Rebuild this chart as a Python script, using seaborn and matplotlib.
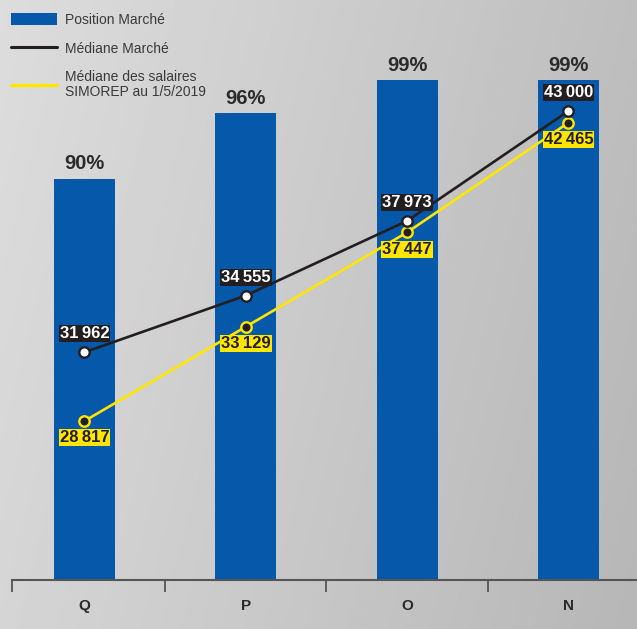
import numpy as np
import pandas as pd
import matplotlib
matplotlib.use("Agg")
import matplotlib.pyplot as plt
import seaborn as sns
from matplotlib import font_manager as fm
from matplotlib.lines import Line2D
from matplotlib.patches import Patch
from matplotlib.ticker import FixedLocator

# ---------------- data ----------------
categories = ["Q", "P", "O", "N"]
position_pct = [90, 96, 99, 99]
mediane_marche = [31962, 34555, 37973, 43000]
mediane_simorep = [28817, 33129, 37447, 42465]
series_labels = ["Position Marché", "Médiane Marché",
                 "Médiane des salaires\nSIMOREP au 1/5/2019"]

BLUE = "#0558AA"
BLACK = "#231F20"
YELLOW = "#FFE600"
TXT = "#2B2B2B"

sns.set_theme(style="white")
plt.rcParams["font.family"] = ["Liberation Sans", "DejaVu Sans"]

W, H = 637, 629
fig = plt.figure(figsize=(W / 100, H / 100), dpi=100)

# background gradient
bg = fig.add_axes([0, 0, 1, 1], zorder=0)
gx, gy = np.meshgrid(np.linspace(0, 1, 300), np.linspace(0, 1, 300))
val = 0.865 - 0.12 * gx - 0.03 * gy
bg.imshow(val, cmap="gray", vmin=0, vmax=1, extent=[0, 1, 0, 1],
          aspect="auto", origin="upper", interpolation="bilinear")
bg.set_axis_off()

rect = [12 / W, (H - 580) / H, 1 - 12 / W, 580 / H]
XL = (-0.449, 3.425)

# ---------------- bars ----------------
ax = fig.add_axes(rect, zorder=1)
ax.patch.set_alpha(0)
df_bar = pd.DataFrame({"cat": categories, "pct": position_pct})
sns.barplot(data=df_bar, x="cat", y="pct", color=BLUE, saturation=1,
            width=0.378, linewidth=0, edgecolor="none", ax=ax)
ax.set_ylim(53.4, 106.3)
ax.set_xlim(*XL)
ax.set_xlabel("")
ax.set_ylabel("")
ax.set_yticks([])
for s in ["top", "right", "left"]:
    ax.spines[s].set_visible(False)
ax.spines["bottom"].set_color("#555555")
ax.spines["bottom"].set_linewidth(1.5)
ax.tick_params(axis="x", which="major", length=0, pad=14,
               labelsize=11, labelcolor=TXT)
for t in ax.get_xticklabels():
    t.set_fontweight("bold")
ax.xaxis.set_minor_locator(FixedLocator([XL[0] + 0.002, 0.5, 1.5, 2.5]))
ax.tick_params(axis="x", which="minor", length=8.6, width=1.3,
               color="#555555", direction="out", bottom=True)

for i, v in enumerate(position_pct):
    ax.annotate(f"{v}%", (i, v), xytext=(0, 6.7), textcoords="offset points",
                ha="center", va="baseline", fontsize=14.5, fontweight="bold",
                color=TXT)

# ---------------- lines ----------------
ax2 = fig.add_axes(rect, zorder=2)
ax2.patch.set_alpha(0)
sns.pointplot(x=categories, y=mediane_simorep, ax=ax2, color=YELLOW,
              markers="o", linestyles="-", linewidth=1.9, markersize=7.5,
              markerfacecolor=BLACK, markeredgecolor=YELLOW,
              markeredgewidth=1.7)
sns.pointplot(x=categories, y=mediane_marche, ax=ax2, color=BLACK,
              markers="o", linestyles="-", linewidth=1.9, markersize=7.5,
              markerfacecolor="white", markeredgecolor=BLACK,
              markeredgewidth=1.7)
ax2.set_xlim(*XL)
ax2.set_ylim(21543, 48078)
ax2.set_axis_off()


def fmt(v):
    return f"{v:,}".replace(",", "\u2009")


for i, v in enumerate(mediane_marche):
    ax2.annotate(fmt(v), (i, v), xytext=(0, 13.3), textcoords="offset points",
                 ha="center", va="center", fontsize=12, fontweight="bold",
                 color="white", zorder=5,
                 bbox=dict(boxstyle="square,pad=0.06", fc=BLACK, ec="none"))
for i, v in enumerate(mediane_simorep):
    ax2.annotate(fmt(v), (i, v), xytext=(0, -12.2), textcoords="offset points",
                 ha="center", va="center", fontsize=12, fontweight="bold",
                 color=BLACK, zorder=5,
                 bbox=dict(boxstyle="square,pad=0.06", fc=YELLOW, ec="none"))

# ---------------- legend ----------------
handles = [Patch(facecolor=BLUE, edgecolor="none"),
           Line2D([], [], color=BLACK, lw=2.2),
           Line2D([], [], color=YELLOW, lw=2.4)]
leg = fig.legend(handles, series_labels, loc="upper left",
                 bbox_to_anchor=(11 / W, 1 - 13 / H), frameon=False,
                 borderpad=0, borderaxespad=0, handlelength=3.3,
                 handleheight=0.95, handletextpad=0.58, labelspacing=1.05,
                 prop=fm.FontProperties(family=["Liberation Sans", "DejaVu Sans"],
                                        size=10))
for t in leg.get_texts():
    t.set_color("#3A3A3A")
leg.get_texts()[2].set_linespacing(1.1)

fig.savefig("out.png", dpi=100)
